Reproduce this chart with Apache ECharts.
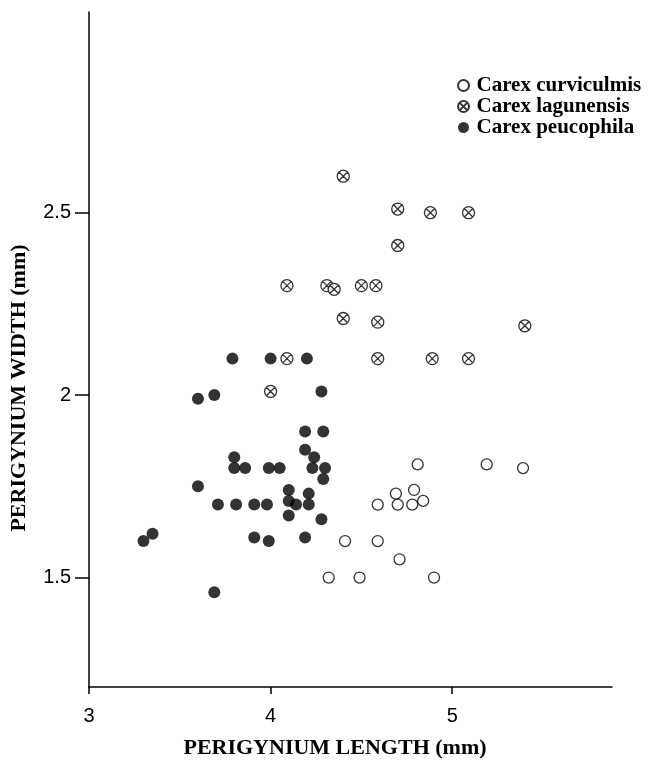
<!DOCTYPE html>
<html><head><meta charset="utf-8">
<script src="https://cdn.jsdelivr.net/npm/echarts@6/dist/echarts.min.js"></script>
<style>html,body{margin:0;padding:0;background:#fff}#c{width:649px;height:768px}</style>
</head><body><div id="c"></div>
<script>
// Carex curviculmis (open circles)
const curviculmisX = [4.81, 5.19, 5.39, 4.69, 4.79, 4.84, 4.59, 4.70, 4.78, 4.41, 4.59, 4.71, 4.32, 4.49, 4.90];
const curviculmisY = [1.81, 1.81, 1.80, 1.73, 1.74, 1.71, 1.70, 1.70, 1.70, 1.60, 1.60, 1.55, 1.50, 1.50, 1.50];
// Carex lagunensis (crossed circles)
const lagunensisX = [4.40, 4.70, 4.88, 5.09, 4.70, 4.09, 4.31, 4.35, 4.50, 4.58, 4.40, 4.59, 4.09, 4.59, 4.89, 5.09, 4.00, 5.40];
const lagunensisY = [2.60, 2.51, 2.50, 2.50, 2.41, 2.30, 2.30, 2.29, 2.30, 2.30, 2.21, 2.20, 2.10, 2.10, 2.10, 2.10, 2.01, 2.19];
// Carex peucophila (filled circles)
const peucophilaX = [3.79, 4.00, 4.20, 3.60, 3.69, 4.28, 4.19, 4.29, 4.19, 4.24, 3.80, 3.80, 3.86, 3.99, 4.05, 4.23, 4.30, 4.29,
  3.60, 4.10, 4.21, 3.71, 3.81, 3.91, 3.98, 4.10, 4.14, 4.21, 4.10, 4.28, 3.35, 3.30, 3.91, 3.99, 4.19, 3.69];
const peucophilaY = [2.10, 2.10, 2.10, 1.99, 2.00, 2.01, 1.90, 1.90, 1.85, 1.83, 1.83, 1.80, 1.80, 1.80, 1.80, 1.80, 1.80, 1.77,
  1.75, 1.74, 1.73, 1.70, 1.70, 1.70, 1.70, 1.71, 1.70, 1.70, 1.67, 1.66, 1.62, 1.60, 1.61, 1.60, 1.61, 1.46];

const seriesNames = ['Carex curviculmis', 'Carex lagunensis', 'Carex peucophila'];
const xTicks = [3, 4, 5];
const yTicks = [1.5, 2, 2.5];
const xTitle = 'PERIGYNIUM LENGTH (mm)';
const yTitle = 'PERIGYNIUM WIDTH (mm)';

const zip = (xs, ys) => xs.map((x, i) => [x, ys[i]]);
const ink = '#000';
const crossedCircle = 'path://M10,0A10,10,0,1,1,-10,0A10,10,0,1,1,10,0ZM-7.07,-7.07L7.07,7.07M7.07,-7.07L-7.07,7.07';

const chart = echarts.init(document.getElementById('c'), null, {renderer: 'canvas'});
chart.setOption({
  backgroundColor: '#fff',
  animation: false,
  grid: {left: 89, right: 37, top: 12, bottom: 81, containLabel: false},
  xAxis: {
    type: 'value', min: 3, max: 5.88,
    axisLine: {lineStyle: {color: ink, width: 1.5}},
    axisTick: {customValues: xTicks, length: 7, lineStyle: {color: ink, width: 1.5}},
    axisLabel: {customValues: xTicks, margin: 19, color: ink, fontFamily: 'Liberation Sans', fontSize: 20},
    splitLine: {show: false}
  },
  yAxis: {
    type: 'value', min: 1.2, max: 3.05,
    axisLine: {show: true, lineStyle: {color: ink, width: 1.5}},
    axisTick: {show: true, customValues: yTicks, length: 14, lineStyle: {color: ink, width: 1.5}},
    axisLabel: {customValues: yTicks, margin: 18, color: ink, fontFamily: 'Liberation Sans', fontSize: 20},
    splitLine: {show: false}
  },
  legend: {
    orient: 'vertical', left: 452, top: 70,
    itemWidth: 16, itemHeight: 11, itemGap: 0,
    data: seriesNames,
    textStyle: {color: ink, fontFamily: 'Liberation Serif', fontWeight: 'bold', fontSize: 21, lineHeight: 20}
  },
  graphic: [
    {type: 'text', x: 335, y: 748, style: {text: xTitle, font: 'bold 22px "Liberation Serif"', fill: ink, align: 'center', verticalAlign: 'middle'}},
    {type: 'text', x: 19, y: 388, rotation: Math.PI / 2, style: {text: yTitle, font: 'bold 22px "Liberation Serif"', fill: ink, align: 'center', verticalAlign: 'middle'}}
  ],
  series: [
    {name: seriesNames[0], type: 'scatter', data: zip(curviculmisX, curviculmisY), symbol: 'circle', symbolSize: 11,
     itemStyle: {color: '#fff', borderColor: ink, borderWidth: 1.3}},
    {name: seriesNames[1], type: 'scatter', data: zip(lagunensisX, lagunensisY), symbol: crossedCircle, symbolSize: 12,
     itemStyle: {color: '#fff', borderColor: ink, borderWidth: 1.3}},
    {name: seriesNames[2], type: 'scatter', data: zip(peucophilaX, peucophilaY), symbol: 'circle', symbolSize: 12,
     itemStyle: {color: ink}}
  ]
});
</script></body></html>
